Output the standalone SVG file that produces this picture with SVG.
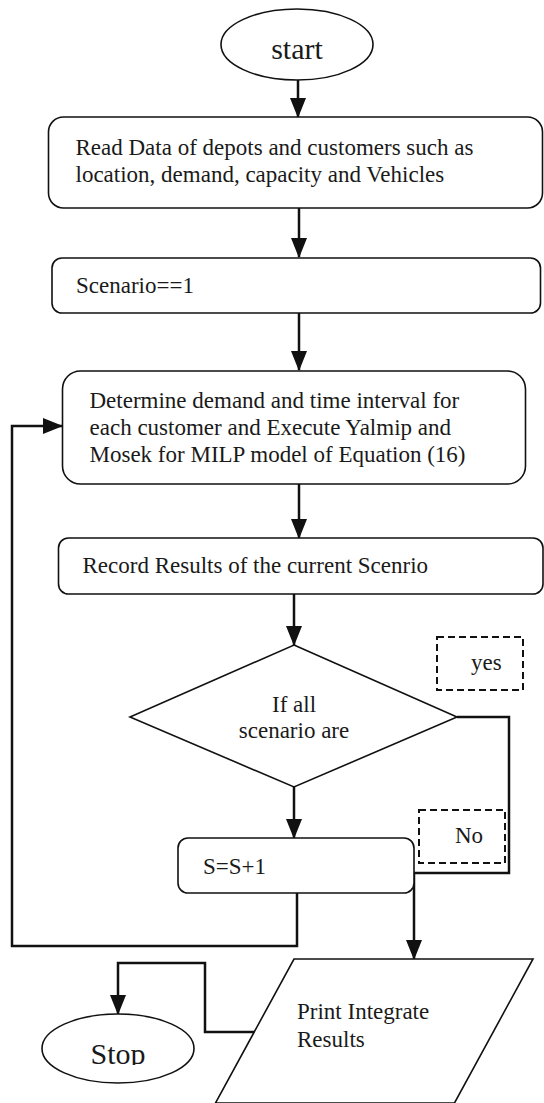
<svg xmlns="http://www.w3.org/2000/svg" width="544" height="1103" viewBox="0 0 544 1103">
<style>
.n{fill:#fff;stroke:#111;stroke-width:1.6}
.d{fill:none;stroke:#111;stroke-width:2;stroke-dasharray:7,4}
.t{font-family:"Liberation Serif","Times New Roman",serif;font-size:23px;fill:#1a1a1a}
.c{fill:none;stroke:#111;stroke-width:2.5}
</style>
<defs>
<marker id="ah" markerUnits="userSpaceOnUse" markerWidth="20" markerHeight="16" refX="19" refY="8" orient="auto" viewBox="0 0 20 16">
<path d="M0,0 L20,8 L0,16 z" fill="#111"/>
</marker>
<clipPath id="stopclip"><rect x="0" y="0" width="544" height="1065"/></clipPath>
</defs>
<g id="connectors">
<path class="c" d="M298,80 V117" marker-end="url(#ah)"/>
<path class="c" d="M299,208 V257" marker-end="url(#ah)"/>
<path class="c" d="M299,313 V370" marker-end="url(#ah)"/>
<path class="c" d="M299,484 V538" marker-end="url(#ah)"/>
<path class="c" d="M294,594 V645" marker-end="url(#ah)"/>
<path class="c" d="M294,787 V838" marker-end="url(#ah)"/>
<path class="c" d="M457,717 H509 V873 H414 V959" marker-end="url(#ah)"/>
<path class="c" d="M297,893 V946 H12 V426 H62" marker-end="url(#ah)"/>
<path class="c" d="M255,1032 H205 V963 H118 V1014" marker-end="url(#ah)"/>
</g>
<g id="start">
<ellipse class="n" cx="297" cy="44.5" rx="76" ry="35.5"/>
<text class="t" x="297" y="59" text-anchor="middle" style="font-size:30px">start</text>
</g>
<g id="read-data">
<rect class="n" x="48.5" y="117" width="494" height="91" rx="15"/>
<text class="t" x="75.5" y="155">Read Data of depots and customers such as</text>
<text class="t" x="75.5" y="182">location, demand, capacity and Vehicles</text>
</g>
<g id="scenario">
<rect class="n" x="52" y="258" width="488.5" height="55" rx="10"/>
<text class="t" x="76" y="293">Scenario==1</text>
</g>
<g id="determine">
<rect class="n" x="62.5" y="371" width="463" height="113" rx="18"/>
<text class="t" x="89.5" y="408">Determine demand and time interval for</text>
<text class="t" x="89.5" y="435">each customer and Execute Yalmip and</text>
<text class="t" x="89.5" y="462">Mosek for MILP model of Equation (16)</text>
</g>
<g id="record">
<rect class="n" x="58.5" y="538" width="484.5" height="56" rx="10"/>
<text class="t" x="82.5" y="573">Record Results of the current Scenrio</text>
</g>
<g id="decision">
<polygon class="n" points="294,645 457,717 294,787 130,717"/>
<text class="t" x="294" y="712" text-anchor="middle">If all</text>
<text class="t" x="294" y="738" text-anchor="middle">scenario are</text>
</g>
<g id="yes-label">
<rect class="d" x="437" y="637" width="86" height="53"/>
<text class="t" x="471" y="670">yes</text>
</g>
<g id="no-label">
<rect class="d" x="419" y="810" width="86" height="53"/>
<text class="t" x="455" y="843">No</text>
</g>
<g id="increment">
<rect class="n" x="178" y="838" width="236" height="55" rx="10"/>
<text class="t" x="203" y="874">S=S+1</text>
</g>
<g id="print">
<polygon class="n" points="294,959 533,959 454.5,1103 215.5,1103"/>
<text class="t" x="297" y="1019">Print Integrate</text>
<text class="t" x="297" y="1047">Results</text>
</g>
<g id="stop">
<ellipse class="n" cx="118" cy="1048.5" rx="76" ry="34.5"/>
<text class="t" x="118" y="1064" text-anchor="middle" style="font-size:30px" clip-path="url(#stopclip)">Stop</text>
</g>
</svg>
